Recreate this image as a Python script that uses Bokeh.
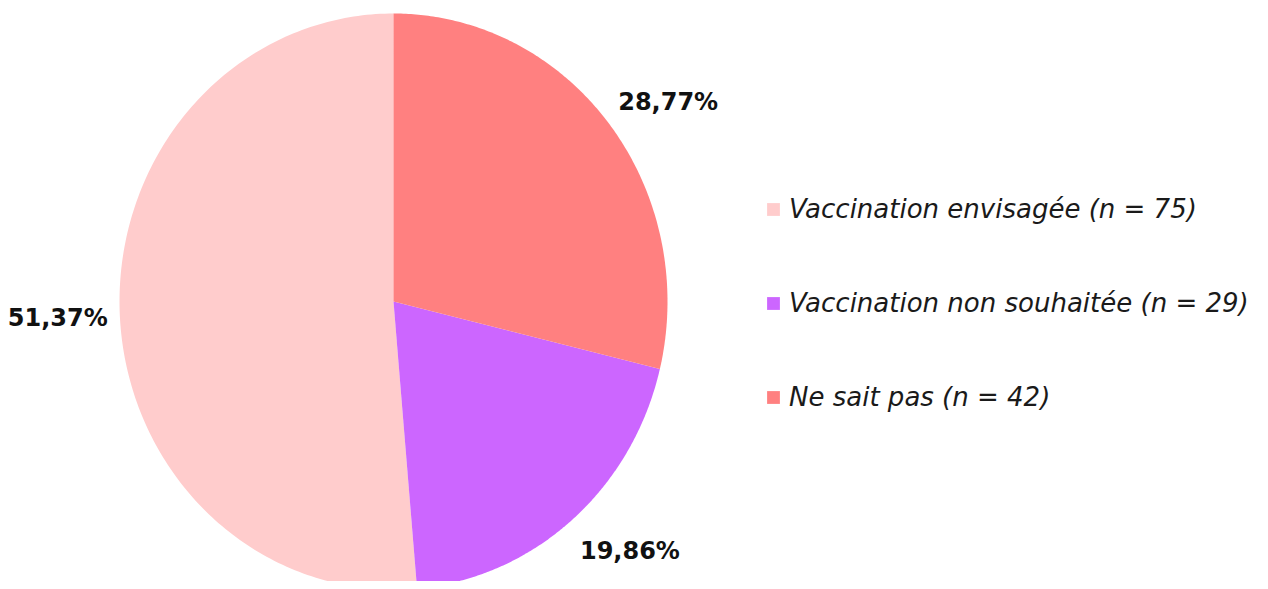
import numpy as np
from bokeh.plotting import figure
from bokeh.models import Range1d, ColumnDataSource, Legend, LegendItem
from bokeh.core.properties import value
from bokeh.embed import file_html
from bokeh.resources import INLINE

# ---- data ----
categories = ["Vaccination envisagée", "Vaccination non souhaitée", "Ne sait pas"]
counts = [75, 29, 42]
colors = ["#FFCCCC", "#CC66FF", "#FF8080"]

# ---- layout constants ----
W, H = 1260, 581
CX, CY = 393, 301      # pie centre (page px)
RX, RY = 274, 288      # pie radii
LABEL_OFF = 12

total = sum(counts)
fracs = [c / total for c in counts]
pct_text = [("%.2f%%" % (f * 100)).replace(".", ",") for f in fracs]
legend_text = ["%s (n = %d)" % (c, n) for c, n in zip(categories, counts)]

p = figure(width=W, height=H, output_backend="svg", toolbar_location=None,
           x_range=Range1d(0, W), y_range=Range1d(H, 0),
           min_border=0, outline_line_color=None)
p.axis.visible = False
p.grid.visible = False
p.background_fill_color = "white"

# wedges (counter-clockwise from 12 o'clock)
xs, ys, lx, ly, al, bl = [], [], [], [], [], []
start = np.pi / 2
for f in fracs:
    end = start + 2 * np.pi * f
    t = np.linspace(start, end, 200)
    xs.append(np.concatenate([[CX], CX + RX * np.cos(t), [CX]]))
    ys.append(np.concatenate([[CY], CY - RY * np.sin(t), [CY]]))
    m = (start + end) / 2
    dx, dy = np.cos(m), -np.sin(m)
    a = "left" if dx > 0.2 else ("right" if dx < -0.2 else "center")
    b = "bottom" if dy < -0.3 else ("top" if dy > 0.3 else "middle")
    extra = 8 if b == "top" else (4 if b == "middle" else 0)
    lx.append(CX + RX * dx + LABEL_OFF * dx)
    ly.append(CY + RY * dy + LABEL_OFF * dy + extra)
    al.append(a)
    bl.append(b)
    start = end

src = ColumnDataSource(dict(xs=xs, ys=ys, color=colors, label=legend_text))
r = p.patches("xs", "ys", source=src, fill_color="color", line_color=None)

lsrc = ColumnDataSource(dict(x=lx, y=ly, text=pct_text, align=al, base=bl))
p.text("x", "y", text="text", source=lsrc, text_align="align", text_baseline="base",
       text_font=value("DejaVu Sans"), text_font_style="bold",
       text_font_size="24px", text_color="#111111")

legend = Legend(items=[LegendItem(label=legend_text[i], renderers=[r], index=i)
                       for i in range(len(categories))],
                location=(765, H - 412), orientation="vertical",
                glyph_width=16, glyph_height=16, label_height=30,
                label_standoff=8, spacing=64, padding=0, margin=0,
                border_line_alpha=0, background_fill_alpha=0,
                label_text_font="DejaVu Sans", label_text_font_style="italic",
                label_text_font_size="26px", label_text_color="#1a1a1a")
p.add_layout(legend, "center")

open("out.html", "w").write(file_html(p, INLINE))
